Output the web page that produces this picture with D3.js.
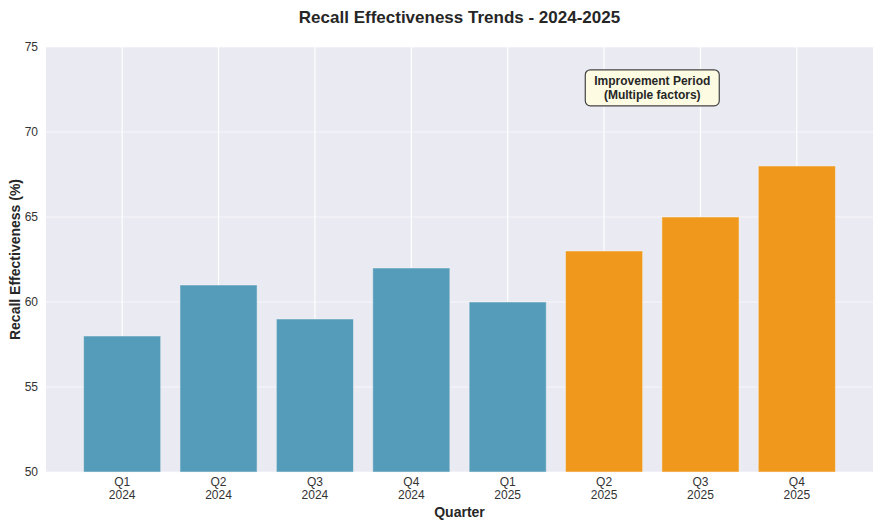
<!DOCTYPE html>
<html>
<head>
<meta charset="utf-8">
<script src="https://cdn.jsdelivr.net/npm/d3@7"></script>
<style>
  body { margin: 0; background: #fff; font-family: "Liberation Sans", Arial, sans-serif; }
</style>
</head>
<body>
<div id="chart"></div>
<script>
const quarters = ["Q1", "Q2", "Q3", "Q4", "Q1", "Q2", "Q3", "Q4"];
const years = ["2024", "2024", "2024", "2024", "2025", "2025", "2025", "2025"];
const effectiveness = [58, 61, 59, 62, 60, 63, 65, 68];
const improved = [false, false, false, false, false, true, true, true];
const yTicks = [50, 55, 60, 65, 70, 75];

const W = 882, H = 529;
const margin = { top: 47, right: 9, bottom: 57, left: 46 };
const width = W - margin.left - margin.right;
const height = H - margin.top - margin.bottom;

const svg = d3.select("#chart")
    .append("svg")
    .attr("width", W)
    .attr("height", H);

const g = svg.append("g")
    .attr("transform", `translate(${margin.left},${margin.top})`);

const x = d3.scaleLinear().domain([-0.79, 7.79]).range([0, width]);
const y = d3.scaleLinear().domain([50, 75]).range([height, 0]);
const barW = x(0.8) - x(0);

// background
g.append("rect")
    .attr("width", width)
    .attr("height", height)
    .attr("fill", "#eaeaf2");

// grid lines
g.selectAll(".hgrid")
    .data(yTicks)
    .join("line")
    .attr("x1", 0).attr("x2", width)
    .attr("y1", d => y(d)).attr("y2", d => y(d))
    .attr("stroke", "#fff")
    .attr("stroke-opacity", 0.6)
    .attr("stroke-width", 1);

g.selectAll(".vgrid")
    .data(effectiveness)
    .join("line")
    .attr("x1", (d, i) => x(i)).attr("x2", (d, i) => x(i))
    .attr("y1", 0).attr("y2", height)
    .attr("stroke", "#fff")
    .attr("stroke-width", 1.2);

// bars
g.selectAll(".bar")
    .data(effectiveness)
    .join("rect")
    .attr("x", (d, i) => x(i) - barW / 2)
    .attr("y", d => y(d))
    .attr("width", barW)
    .attr("height", d => height - y(d))
    .attr("fill", (d, i) => improved[i] ? "#f0981b" : "#549cba")
    .attr("stroke", "#f6f6f6")
    .attr("stroke-opacity", 0.5)
    .attr("stroke-width", 1);

// y tick labels
g.selectAll(".ytick")
    .data(yTicks)
    .join("text")
    .attr("x", -8)
    .attr("y", d => y(d))
    .attr("dy", "0.35em")
    .attr("text-anchor", "end")
    .attr("font-size", 12)
    .attr("fill", "#333")
    .text(d => d);

// x tick labels
const xt = g.selectAll(".xtick")
    .data(effectiveness)
    .join("text")
    .attr("text-anchor", "middle")
    .attr("font-size", 12)
    .attr("fill", "#333");
xt.append("tspan")
    .attr("x", (d, i) => x(i))
    .attr("y", height + 14)
    .text((d, i) => quarters[i]);
xt.append("tspan")
    .attr("x", (d, i) => x(i))
    .attr("y", height + 27)
    .text((d, i) => years[i]);

// axis titles
svg.append("text")
    .attr("x", margin.left + width / 2)
    .attr("y", 517)
    .attr("text-anchor", "middle")
    .attr("font-size", 14)
    .attr("font-weight", "bold")
    .attr("fill", "#262626")
    .text("Quarter");

svg.append("text")
    .attr("transform", `translate(20,${margin.top + height / 2}) rotate(-90)`)
    .attr("text-anchor", "middle")
    .attr("font-size", 14)
    .attr("font-weight", "bold")
    .attr("fill", "#262626")
    .text("Recall Effectiveness (%)");

svg.append("text")
    .attr("x", margin.left + width / 2)
    .attr("y", 23)
    .attr("text-anchor", "middle")
    .attr("font-size", 17)
    .attr("font-weight", "bold")
    .attr("fill", "#262626")
    .text("Recall Effectiveness Trends - 2024-2025");

// annotation
const ax = x(5.5), ay = y(72.6);
const note = g.append("g").attr("transform", `translate(${ax},${ay})`);
note.append("rect")
    .attr("x", -67).attr("y", -18)
    .attr("width", 134).attr("height", 36)
    .attr("rx", 5)
    .attr("fill", "#fdfbe2")
    .attr("stroke", "#444")
    .attr("stroke-width", 1.2);
const nt = note.append("text")
    .attr("text-anchor", "middle")
    .attr("font-size", 12)
    .attr("font-weight", "bold")
    .attr("fill", "#262626");
nt.append("tspan").attr("x", 0).attr("y", -3).text("Improvement Period");
nt.append("tspan").attr("x", 0).attr("y", 11).text("(Multiple factors)");
</script>
</body>
</html>
